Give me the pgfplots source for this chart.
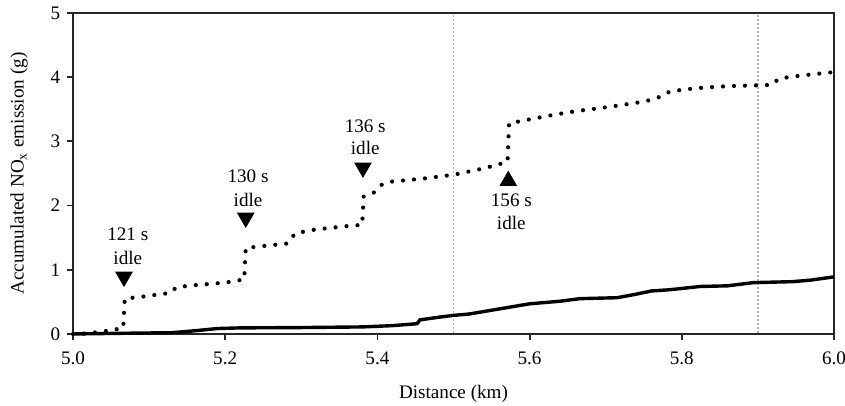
\documentclass[border=0pt]{standalone}
\usepackage{pgfplots}
\pgfplotsset{compat=1.18}
\usepackage{fontspec}
\setmainfont{Liberation Serif}
\begin{document}
\fontsize{9.6}{11.5}\selectfont
\begin{tikzpicture}
\begin{axis}[
  scale only axis, width=380.5bp, height=160.5bp,
  xmin=5, xmax=6, ymin=0, ymax=5,
  xtick={5,5.2,5.4,5.6,5.8,6},
  ytick={0,1,2,3,4,5},
  xticklabel style={/pgf/number format/fixed, /pgf/number format/fixed zerofill, /pgf/number format/precision=1, yshift=-2.7bp},
  /pgf/number format/assume math mode=true,
  tick align=outside, major tick length=3bp,
  xtick pos=bottom, ytick pos=left,
  axis line style={line width=0.9bp, black!85},
  tick style={line width=0.9bp, black!85},
  xlabel={Distance (km)},
  ylabel={Accumulated NO\textsubscript{x} emission (g)},
  xlabel style={at={(axis description cs:0.5,0)}, anchor=base, yshift=-32.5bp},
  ylabel style={at={(axis description cs:-0.0828,0.5)}, anchor=north, inner sep=0pt},
  clip=false,
]
\coordinate (SW) at (rel axis cs:0,0);
\coordinate (NE) at (rel axis cs:1,1);
% vertical reference lines
\addplot[gray!60, line width=0.8bp, dash pattern=on 0.8bp off 1.2bp] coordinates {(5.5,0.02) (5.5,4.98)};
\addplot[gray!60, line width=0.8bp, dash pattern=on 0.8bp off 1.2bp] coordinates {(5.9,0.02) (5.9,4.98)};
% dotted series
\addplot[black, line width=2.1bp, line cap=round, dash pattern=on 0bp off 5.5bp] coordinates {
(5.000,0.00) (5.020,0.01) (5.040,0.04) (5.060,0.08) (5.066,0.09)
(5.068,0.55) (5.090,0.58) (5.128,0.64) (5.136,0.73) (5.160,0.76)
(5.200,0.80) (5.225,0.85) (5.227,1.34) (5.250,1.37) (5.282,1.41)
(5.292,1.57) (5.320,1.63) (5.360,1.68) (5.380,1.70) (5.382,2.14)
(5.395,2.20) (5.405,2.32) (5.415,2.37) (5.460,2.42) (5.500,2.48)
(5.540,2.58) (5.571,2.68) (5.573,3.28) (5.590,3.32) (5.630,3.41)
(5.660,3.47) (5.700,3.53) (5.740,3.60) (5.765,3.66) (5.785,3.78)
(5.820,3.83) (5.860,3.86) (5.918,3.88) (5.928,3.98) (5.960,4.03)
(6.000,4.08)};
% solid series
\addplot[black, line width=1.7bp] coordinates {
(5.000,0.00) (5.060,0.01) (5.130,0.02) (5.160,0.05) (5.190,0.085)
(5.220,0.095) (5.300,0.10) (5.380,0.11) (5.420,0.13) (5.452,0.16)
(5.456,0.22) (5.480,0.26) (5.500,0.29) (5.520,0.31) (5.560,0.39)
(5.600,0.47) (5.640,0.51) (5.666,0.55) (5.715,0.565) (5.740,0.62)
(5.760,0.67) (5.785,0.69) (5.824,0.74) (5.860,0.75) (5.894,0.80)
(5.946,0.815) (5.970,0.84) (6.000,0.89)};
% triangles
\addplot[only marks, mark=triangle*, mark size=4.7bp, mark options={rotate=180, fill=black, draw=black}] coordinates {
(5.067,0.89) (5.227,1.81) (5.381,2.59)};
\addplot[only marks, mark=triangle*, mark size=4.7bp, mark options={fill=black, draw=black}] coordinates {
(5.572,2.385)};
% annotations
\node[anchor=base] at (axis cs:5.072,1.449) {121 s};
\node[anchor=base] at (axis cs:5.072,1.09) {idle};
\node[anchor=base] at (axis cs:5.230,2.357) {130 s};
\node[anchor=base] at (axis cs:5.230,1.983) {idle};
\node[anchor=base] at (axis cs:5.384,3.14) {136 s};
\node[anchor=base] at (axis cs:5.384,2.79) {idle};
\node[anchor=base] at (axis cs:5.576,1.983) {156 s};
\node[anchor=base] at (axis cs:5.576,1.62) {idle};
\end{axis}
\pgfresetboundingbox
\path[use as bounding box] ([shift={(-36.5bp,-36bp)}]SW) rectangle ([shift={(5.5bp,6.5bp)}]NE);
\end{tikzpicture}
\end{document}
